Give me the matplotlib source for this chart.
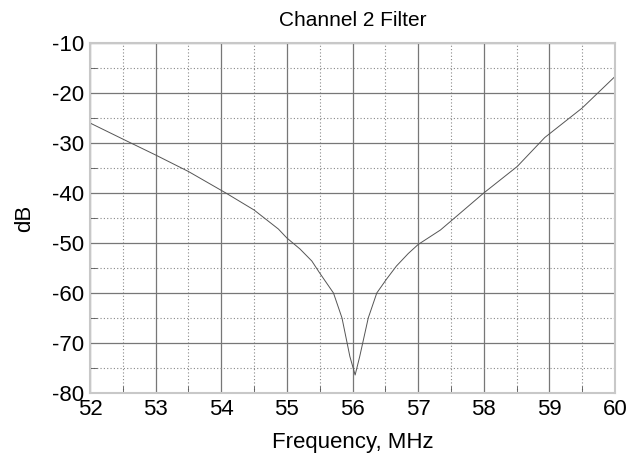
import matplotlib
matplotlib.use("Agg")
import matplotlib.pyplot as plt
from matplotlib.ticker import MultipleLocator

plt.rcParams["font.family"] = ["Liberation Sans", "DejaVu Sans"]
plt.rcParams["axes.unicode_minus"] = False

# Filter response
freq = [52.0, 52.56, 53.0, 53.5, 54.07, 54.5, 54.87, 55.0, 55.2, 55.38, 55.5, 55.71,
        55.84, 55.96, 56.04, 56.11, 56.24, 56.37, 56.52, 56.67, 56.85, 57.0, 57.34,
        57.51, 58.0, 58.51, 58.93, 59.5, 60.0]
db = [-26.0, -29.6, -32.4, -35.7, -40.0, -43.4, -47.2, -49.0, -51.2, -53.6, -56.0, -60.0,
      -65.0, -72.7, -76.4, -72.7, -65.0, -60.0, -57.2, -54.6, -52.1, -50.3, -47.4,
      -45.5, -40.0, -34.7, -28.9, -23.0, -16.7]

fig = plt.figure(figsize=(6.29, 4.59), dpi=100)
ax = fig.add_axes([90 / 629, 1 - 393 / 459, 525 / 629, 350 / 459])

ax.plot(freq, db, color="#555555", linewidth=0.7)

ax.set_xlim(52, 60)
ax.set_ylim(-80, -10)
ax.xaxis.set_major_locator(MultipleLocator(1))
ax.xaxis.set_minor_locator(MultipleLocator(0.5))
ax.yaxis.set_major_locator(MultipleLocator(10))
ax.yaxis.set_minor_locator(MultipleLocator(5))

ax.grid(True, which="major", color="#777777", linewidth=0.9, linestyle="-")
ax.grid(True, which="minor", color="#888888", linewidth=0.8, linestyle=(0, (1, 2)))
ax.set_axisbelow(True)

for s in ax.spines.values():
    s.set_color("#c8c8c8")
    s.set_linewidth(1.5)

ax.tick_params(which="both", direction="in", color="#555555")
ax.tick_params(which="major", length=0, labelsize=16, pad=4)
ax.tick_params(which="minor", length=5)

ax.set_title("Channel 2 Filter", fontsize=15, pad=12)
ax.set_xlabel("Frequency, MHz", fontsize=16, labelpad=9)
ax.set_ylabel("dB", fontsize=16, labelpad=12)

fig.savefig("out.png", dpi=100)
